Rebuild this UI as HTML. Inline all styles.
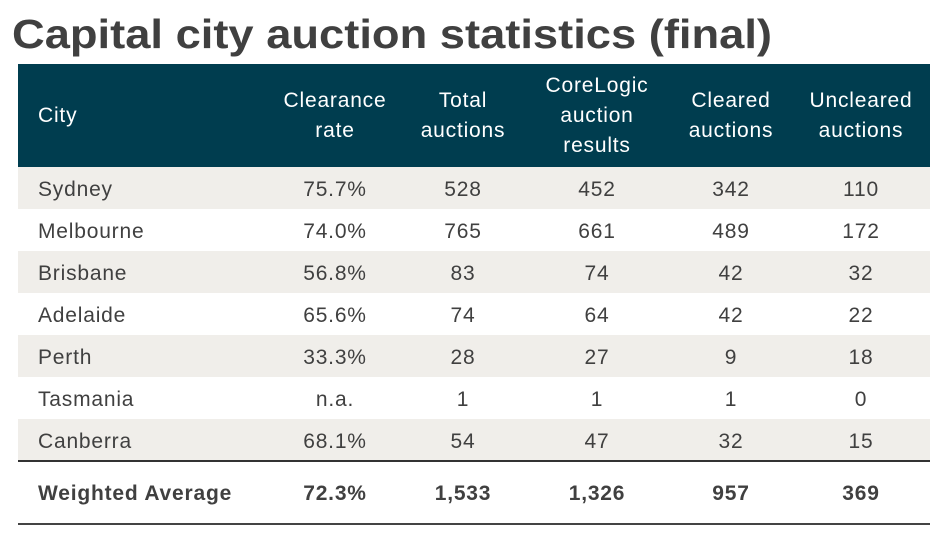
<!DOCTYPE html>
<html><head><meta charset="utf-8"><style>
body{margin:0;width:943px;height:543px;background:#fff;font-family:"Liberation Sans",Arial,sans-serif;position:relative;overflow:hidden;color:#404040}
.abs{position:absolute}
.hdr{left:18px;top:64px;width:912px;height:103px;background:#003d4f}
.h{position:absolute;color:#fff;font-size:21px;letter-spacing:0.8px;line-height:30px;text-align:center;transform:translateX(-50%);white-space:nowrap}
.row{position:absolute;left:18px;width:912px;height:42px}
.c{position:absolute;top:2px;font-size:21px;letter-spacing:0.8px;line-height:42px;transform:translateX(-50%);white-space:nowrap}
.city{position:absolute;top:2px;left:20px;font-size:21px;letter-spacing:0.8px;line-height:42px}
</style></head><body>
<svg class="abs" style="left:0;top:0" width="943" height="60"><text x="12" y="48" font-family="Liberation Sans,Arial,sans-serif" font-weight="bold" font-size="41" fill="#404040" textLength="760" lengthAdjust="spacingAndGlyphs">Capital city auction statistics (final)</text></svg>
<div class="abs hdr">
<div class="h" style="left:20px;top:37px;transform:none;text-align:left">City</div>
<div class="h" style="left:317px;top:22px">Clearance<br>rate</div>
<div class="h" style="left:445px;top:22px">Total<br>auctions</div>
<div class="h" style="left:579px;top:7px">CoreLogic<br>auction<br>results</div>
<div class="h" style="left:713px;top:22px">Cleared<br>auctions</div>
<div class="h" style="left:843px;top:22px">Uncleared<br>auctions</div>
</div>
<div id="rows"></div>
<div class="abs" style="left:18px;top:460px;width:912px;height:2px;background:#333"></div>
<div class="row" style="top:471px;font-weight:bold">
<div class="city" style="font-weight:bold">Weighted Average</div>
<div class="c" style="left:317px">72.3%</div><div class="c" style="left:445px">1,533</div><div class="c" style="left:579px">1,326</div><div class="c" style="left:713px">957</div><div class="c" style="left:843px">369</div>
</div>
<div class="abs" style="left:18px;top:523px;width:912px;height:2px;background:#444"></div>
<script>
const cities=["Sydney","Melbourne","Brisbane","Adelaide","Perth","Tasmania","Canberra"];
const rates=["75.7%","74.0%","56.8%","65.6%","33.3%","n.a.","68.1%"];
const totals=[528,765,83,74,28,1,54];
const corelogic=[452,661,74,64,27,1,47];
const cleared=[342,489,42,42,9,1,32];
const uncleared=[110,172,32,22,18,0,15];
const cols=[317,445,579,713,843];
const host=document.getElementById('rows');
cities.forEach((c,i)=>{
const r=document.createElement('div');
r.className='row';
r.style.top=(167+i*42)+'px';
r.style.background=i%2===0?'#f0eeea':'#fff';


const n=document.createElement('div');n.className='city';n.textContent=c;


r.appendChild(n);
[rates[i],totals[i],corelogic[i],cleared[i],uncleared[i]].forEach((v,j)=>{
const d=document.createElement('div');d.className='c';d.style.left=cols[j]+'px';d.textContent=v;


r.appendChild(d);});
host.appendChild(r);});
</script>
</body></html>
